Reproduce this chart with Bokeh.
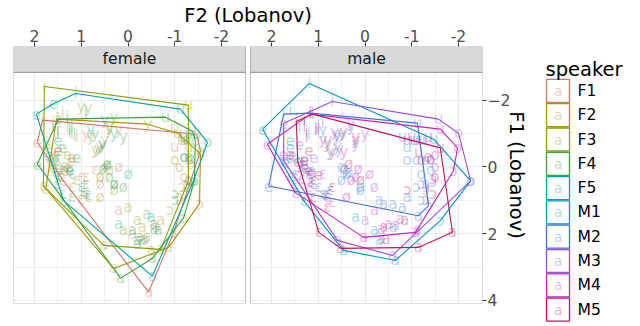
from bokeh.plotting import figure
from bokeh.models import Range1d, FixedTicker, BoxAnnotation, Label, ColumnDataSource
from bokeh.layouts import row
from bokeh.core.properties import value
from bokeh.embed import file_html
from bokeh.resources import INLINE

# ---------------- data ----------------
SPEAKERS = ["F1", "F2", "F3", "F4", "F5", "M1", "M2", "M3", "M4", "M5"]
SEX = ["female"] * 5 + ["male"] * 5
COLORS = ["#D0776A", "#A89400", "#8C9E00", "#3AA33A", "#00A693",
          "#0094C8", "#3B74D6", "#9A4DE0", "#C323C3", "#C4145E"]

VOWELS = ["i", "i", "i", "y", "y", "y", "e", "e", "e", "ɛ", "ɛ", "ɛ",
          "ø", "ø", "a", "a", "a", "a", "o", "o", "ɔ", "ɔ", "u", "u",
          "i", "y", "e", "e", "ɛ", "ɛ", "ø", "a", "a", "o", "ɔ", "u"]

F1_f2 = [1.83, 1.60, 1.45, 0.90, 0.50, 0.20, 1.94, 1.50, 1.20, 1.38, 1.00, 0.70,
         0.20, 0.60, -0.44, -0.10, -0.50, 0.20, -1.55, -1.20, -0.97, -1.10, -1.47, -1.00,
         1.20, 0.60, 1.60, 1.30, 1.40, 0.90, 0.50, -0.30, -0.60, -1.30, -1.25, -1.20]
F1_f1 = [-1.40, -1.20, -1.30, -1.00, -0.80, -1.10, -0.74, -0.50, -0.30, 0.42, 0.30, 0.10,
         0.00, 0.50, 3.75, 2.00, 2.50, 1.30, -0.48, 0.30, 1.99, 1.00, -0.98, -0.60,
         -1.00, -0.60, -0.30, 0.00, 0.10, 0.80, 0.00, 2.20, 1.80, -0.20, 0.50, -0.80]

F2_f2 = [1.53, 1.30, 1.50, -0.42, 0.40, 0.80, 1.50, 1.20, 1.60, 1.76, 1.20, 0.90,
         0.30, 0.60, 0.31, -0.87, -0.30, 0.00, -1.55, -1.10, -1.53, -1.20, -1.06, -1.30,
         1.10, 0.70, 1.55, 1.35, 1.50, 1.00, 0.40, -0.40, -0.70, -1.35, -1.30, -1.15]
F2_f1 = [-1.43, -1.20, -1.00, -1.28, -1.10, -0.90, -0.50, -0.20, 0.00, 0.65, 0.60, 0.30,
         0.50, 0.90, 3.04, 2.41, 1.80, 1.20, -0.39, 0.00, 1.10, 0.80, -1.01, -0.60,
         -0.90, -0.50, -0.40, 0.10, 0.25, 0.95, 0.10, 2.10, 1.60, -0.10, 0.40, -0.80]

F3_f2 = [1.79, 1.40, 1.60, 1.00, 0.85, 0.30, 1.70, 1.30, 1.50, 1.81, 1.40, 1.10,
         0.60, 0.30, -0.70, 0.52, -0.20, 0.10, -1.29, -1.00, -1.10, -0.90, -1.29, -1.00,
         1.25, 0.55, 1.65, 1.25, 1.45, 0.85, 0.45, -0.25, -0.55, -1.20, -1.15, -1.20]
F3_f1 = [-2.41, -1.60, -1.30, -1.80, -1.75, -1.50, -0.60, -0.40, -0.10, 0.57, 0.80, 0.40,
         0.30, 0.70, 2.47, 2.35, 1.60, 1.90, 0.42, -0.20, 0.90, 1.30, -1.85, -1.20,
         -1.10, -0.70, -0.20, 0.10, 0.30, 0.90, -0.10, 2.10, 1.70, -0.30, 0.60, -0.90]

F4_f2 = [1.49, 1.20, 1.50, 0.40, 0.70, 0.10, 1.94, 1.40, 1.10, 1.50, 1.20, 0.90,
         0.40, 0.10, 0.16, -0.52, -0.10, -0.40, -1.42, -1.44, -1.19, -1.00, -0.80, -1.38,
         1.15, 0.65, 1.70, 1.35, 1.55, 0.95, 0.55, -0.20, -0.65, -1.30, -1.30, -1.20]
F4_f1 = [-1.43, -1.20, -1.10, -1.20, -1.00, -0.90, -0.09, -0.60, -0.30, 0.50, 0.90, 0.50,
         0.30, 0.60, 3.33, 2.74, 1.90, 1.40, 0.42, -0.77, 1.52, 0.80, -1.49, -1.07,
         -0.95, -0.55, -0.35, -0.05, 0.15, 0.75, 0.05, 2.30, 1.90, -0.30, 0.60, -0.90]

F5_f2 = [1.12, 1.30, 0.90, 0.50, 0.30, 0.80, 1.96, 1.59, 1.50, 1.38, 1.00, 1.20,
         0.30, 0.00, -0.52, -0.20, 0.20, -0.50, -1.70, -1.20, -1.40, -1.00, -1.12, -1.30,
         1.25, 0.55, 1.55, 1.25, 1.45, 0.85, 0.45, -0.35, -0.55, -1.35, -1.25, -1.25]
F5_f1 = [-2.20, -1.50, -1.60, -1.40, -1.00, -1.10, -1.58, -1.90, -0.80, 1.01, 0.60, 0.20,
         0.50, 0.20, 3.27, 2.20, 1.70, 1.50, -0.74, -0.30, 0.42, 1.00, -1.73, -1.00,
         -1.05, -0.65, -0.25, 0.05, 0.25, 0.85, -0.05, 2.15, 1.85, -0.25, 0.55, -0.85]

M1_f2 = [1.19, 1.60, 1.30, 0.60, 0.30, 0.90, 2.19, 1.60, 1.40, 1.31, 1.10, 0.80,
         0.40, 0.10, -0.65, 0.46, -0.20, 0.20, -2.26, -1.40, -1.61, -1.20, -1.47, -0.90,
         1.20, 0.60, 1.60, 1.30, 1.50, 0.90, 0.50, -0.30, -0.60, -1.30, -1.30, -1.20]
M1_f1 = [-2.50, -1.70, -1.40, -1.00, -1.20, -1.10, -1.13, -0.80, -0.20, 1.01, 0.40, 0.80,
         0.20, 0.60, 2.80, 2.50, 1.90, 1.50, 0.42, 0.10, 1.61, 1.00, -0.83, -0.60,
         -1.00, -0.60, -0.30, 0.00, 0.20, 0.80, 0.00, 2.20, 1.80, -0.20, 0.50, -0.80]

M2_f2 = [1.74, 1.17, 1.40, 0.50, 0.80, 0.20, 2.06, 1.60, 1.30, 1.50, 1.00, 1.20,
         0.50, 0.10, -1.14, -0.80, -0.40, -0.90, -1.20, -0.90, -1.36, -1.10, -1.12, -0.80,
         1.05, 0.75, 1.70, 1.15, 1.60, 0.75, 0.35, -0.30, -0.60, -1.10, -1.20, -1.05]
M2_f1 = [-1.58, -1.61, -1.20, -1.00, -0.80, -0.70, 0.57, -0.60, -0.20, 0.50, 0.60, 0.20,
         0.40, 0.70, 1.46, 1.20, 1.10, 0.90, 0.20, -0.20, 1.16, 0.60, -1.31, -0.90,
         -1.15, -0.45, -0.15, 0.10, 0.30, 0.70, 0.15, 1.00, 1.10, -0.20, 0.50, -0.80]

M3_f2 = [0.70, 1.30, 1.00, 0.30, 0.60, 0.00, 1.74, 1.40, 1.10, 1.74, 1.20, 0.90,
         0.20, -0.20, -0.59, 0.59, -1.12, 0.00, -2.00, -1.50, -2.26, -1.30, -1.57, -1.10,
         1.25, 0.55, 1.55, 1.35, 1.45, 0.85, 0.45, -0.35, -0.65, -1.40, -1.45, -1.25]
M3_f1 = [-1.96, -1.40, -1.20, -1.30, -0.90, -1.00, -1.31, -0.70, -0.30, -0.18, 0.60, 0.20,
         0.30, 0.60, 2.65, 2.20, 1.90, 1.60, -1.01, 0.00, 0.42, 0.70, -1.43, -0.80,
         -1.05, -0.55, -0.35, 0.05, 0.25, 0.85, 0.05, 2.15, 1.75, -0.25, 0.45, -0.85]

M4_f2 = [1.17, 1.30, 0.90, 0.65, 0.20, 0.90, 2.09, 1.60, 1.30, 1.49, 1.10, 0.80,
         0.30, -0.10, 0.03, -1.08, -0.50, -0.20, -1.98, -1.40, -1.89, -1.30, -1.61, -1.00,
         1.05, 0.45, 1.75, 1.15, 1.35, 0.70, 0.15, -0.35, -0.75, -1.50, -1.45, -1.35]
M4_f1 = [-1.58, -1.20, -1.30, -1.05, -0.90, -0.80, -0.68, -0.40, -0.10, 0.77, 0.50, 0.90,
         0.40, 0.20, 2.11, 1.96, 1.70, 1.30, -0.57, -0.20, 0.12, 0.60, -1.13, -0.90,
         -1.10, -0.45, -0.40, 0.15, 0.35, 1.05, 0.05, 1.85, 1.55, -0.35, 0.35, -0.90]

M5_f2 = [1.12, 1.47, 1.00, 0.45, 0.20, 0.80, 1.44, 1.20, 1.00, 0.99, 1.10, 0.70,
         0.10, 0.40, -1.14, 0.52, -1.87, -0.40, -1.20, -1.50, -1.30, -0.90, -1.61, -0.90,
         1.25, 0.70, 1.30, 1.20, 1.15, 0.80, 0.35, -0.45, -0.85, -1.35, -1.45, -1.15]
M5_f1 = [-1.58, -1.37, -1.10, -1.05, -0.80, -0.70, -0.18, -0.50, 0.20, 1.96, 0.90, 0.60,
         0.40, 0.90, 2.41, 2.44, 1.96, 1.80, -0.20, 0.30, 1.00, 0.70, -0.57, -0.80,
         -0.90, -0.45, -0.25, 0.10, 0.45, 1.20, -0.10, 2.15, 1.60, -0.30, 0.80, -0.45]

F2_DATA = [F1_f2, F2_f2, F3_f2, F4_f2, F5_f2, M1_f2, M2_f2, M3_f2, M4_f2, M5_f2]
F1_DATA = [F1_f1, F2_f1, F3_f1, F4_f1, F5_f1, M1_f1, M2_f1, M3_f1, M4_f1, M5_f1]

X_TICKS = [2, 1, 0, -1, -2]
X_MINOR = [1.5, 0.5, -0.5, -1.5]
Y_TICKS = [-2, 0, 2, 4]
Y_MINOR = [-1, 1, 3]
X_TICK_LABELS = ["2", "1", "0", "-1", "-2"]
FACETS = ["female", "male"]

# ---------------- layout constants ----------------
FONT_NAME = "DejaVu Sans"
FONT = value(FONT_NAME)
PX_PER_UNIT = 46.75
F_LEFT, F_RIGHT = 2.45, -2.513          # female panel extent (F2)
GAP = 5 / PX_PER_UNIT
M_OFFSET = (F_LEFT - F_RIGHT) + GAP     # shift of male panel in female coordinates
M_LEFT = F_LEFT + M_OFFSET              # male range start (male coords)
FRAME_RIGHT = F_RIGHT - M_OFFSET        # right end of whole frame (female coords)
Y_TOP_PANEL, Y_BOTTOM = -2.83, 4.09
STRIP_UNITS = 26 / 33.53
Y_TOP = Y_TOP_PANEL - STRIP_UNITS

p = figure(width=536, height=326,
           x_range=Range1d(F_LEFT, FRAME_RIGHT), y_range=Range1d(Y_BOTTOM, Y_TOP),
           x_axis_location="above", y_axis_location="right",
           output_backend="svg", toolbar_location=None,
           min_border_left=13, min_border_right=54, min_border_top=45, min_border_bottom=23)
p.extra_x_ranges = {"male": Range1d(M_LEFT, F_RIGHT)}
p.outline_line_color = None
p.background_fill_color = "white"

# ticks for both panels on the single top axis
all_ticks = [float(t) for t in X_TICKS] + [round(t - M_OFFSET, 4) for t in X_TICKS]
all_minor = [float(t) for t in X_MINOR] + [round(t - M_OFFSET, 4) for t in X_MINOR]
overrides = {}
for t, lab in zip(all_ticks, X_TICK_LABELS * 2):
    overrides[t] = lab

xa = p.xaxis[0]
xa.ticker = FixedTicker(ticks=all_ticks)
xa.major_label_overrides = overrides
xa.axis_label = "F2 (Lobanov)"
xa.axis_label_standoff = 0
ya = p.yaxis[0]
ya.ticker = FixedTicker(ticks=Y_TICKS)
ya.axis_label = "F1 (Lobanov)"
ya.axis_label_standoff = -8
for ax in (xa, ya):
    ax.axis_line_color = None
    ax.major_tick_line_color = "#333333"
    ax.major_tick_in = 0
    ax.major_tick_out = 4
    ax.minor_tick_line_color = None
    ax.major_label_text_font = FONT_NAME
    ax.major_label_text_font_size = "15.6px"
    ax.major_label_text_color = "#4D4D4D"
    ax.major_label_standoff = 1
    ax.axis_label_text_font = FONT_NAME
    ax.axis_label_text_font_size = "19.5px"
    ax.axis_label_text_font_style = "normal"
    ax.axis_label_text_color = "black"

p.xgrid.ticker = FixedTicker(ticks=all_ticks, minor_ticks=all_minor)
p.ygrid.ticker = FixedTicker(ticks=Y_TICKS, minor_ticks=Y_MINOR)
for g in (p.xgrid, p.ygrid):
    g.grid_line_color = "#EBEBEB"
    g.grid_line_width = 1.2
    g.minor_grid_line_color = "#EBEBEB"
    g.minor_grid_line_width = 0.7


def convex_hull(xs, ys):
    pts = sorted(set(zip(xs, ys)))

    def cross(o, a, b):
        return (a[0] - o[0]) * (b[1] - o[1]) - (a[1] - o[1]) * (b[0] - o[0])
    lower, upper = [], []
    for pt in pts:
        while len(lower) >= 2 and cross(lower[-2], lower[-1], pt) <= 0:
            lower.pop()
        lower.append(pt)
    for pt in reversed(pts):
        while len(upper) >= 2 and cross(upper[-2], upper[-1], pt) <= 0:
            upper.pop()
        upper.append(pt)
    h = lower[:-1] + upper[:-1]
    h.append(h[0])
    return [q[0] for q in h], [q[1] for q in h]


# vowel labels
for spk, sex, col, xs, ys in zip(SPEAKERS, SEX, COLORS, F2_DATA, F1_DATA):
    src = ColumnDataSource(dict(x=xs, y=ys, v=VOWELS))
    kw = {} if sex == "female" else {"x_range_name": "male"}
    p.text(x="x", y="y", text="v", source=src, text_color=col, text_alpha=0.35,
           text_font=FONT, text_font_size="15px", text_align="center",
           text_baseline="middle", **kw)

# hulls
for spk, sex, col, xs, ys in zip(SPEAKERS, SEX, COLORS, F2_DATA, F1_DATA):
    hx, hy = convex_hull(xs, ys)
    kw = {} if sex == "female" else {"x_range_name": "male"}
    p.line(hx, hy, line_color=col, line_width=1.1, **kw)

# gap between panels, panel borders and strips
p.add_layout(BoxAnnotation(left=F_RIGHT, right=F_RIGHT - GAP, fill_color="white",
                           fill_alpha=1, line_color=None))
for i, facet in enumerate(FACETS):
    left = F_LEFT - i * M_OFFSET
    right = F_RIGHT - i * M_OFFSET
    p.add_layout(BoxAnnotation(left=left, right=right, top=Y_TOP_PANEL, bottom=Y_BOTTOM,
                               fill_alpha=0, line_color="#333333", line_width=1.1))
    p.add_layout(BoxAnnotation(left=left, right=right, top=Y_TOP, bottom=Y_TOP_PANEL,
                               fill_color="#D9D9D9", fill_alpha=1,
                               line_color="#333333", line_width=1.1))
    p.add_layout(Label(x=(left + right) / 2, y=(Y_TOP + Y_TOP_PANEL) / 2, text=facet,
                       text_align="center", text_baseline="middle",
                       text_font=FONT_NAME, text_font_size="15.6px", text_color="#1A1A1A"))

# ---------------- legend ----------------
lg = figure(width=104, height=326, x_range=Range1d(0, 104), y_range=Range1d(326, 0),
            x_axis_type=None, y_axis_type=None, output_backend="svg",
            toolbar_location=None, min_border=0)
lg.frame_align = False
lg.outline_line_color = None
lg.grid.visible = False
key_y = [90.4 + i * 24.3 for i in range(len(SPEAKERS))]
lsrc = ColumnDataSource(dict(x=[21.5] * len(SPEAKERS), y=key_y, c=COLORS, s=SPEAKERS,
                             a=["a"] * len(SPEAKERS), lx=[41] * len(SPEAKERS)))
lg.rect(x="x", y="y", width=23, height=23, source=lsrc, fill_color="white",
        line_color="c", line_width=1.3)
lg.text(x="x", y="y", text="a", source=lsrc, text_color="c", text_alpha=0.35,
        text_font=FONT, text_font_size="14px", text_align="center", text_baseline="middle")
lg.text(x="lx", y="y", text="s", source=lsrc, text_color="black",
        text_font=FONT, text_font_size="15.6px", text_align="left", text_baseline="middle")
lg.add_layout(Label(x=9, y=69, text="speaker", text_align="left", text_baseline="alphabetic",
                    text_font=FONT_NAME, text_font_size="19.5px", text_color="black"))

layout = row(p, lg)
open("out.html", "w").write(file_html(layout, INLINE))
